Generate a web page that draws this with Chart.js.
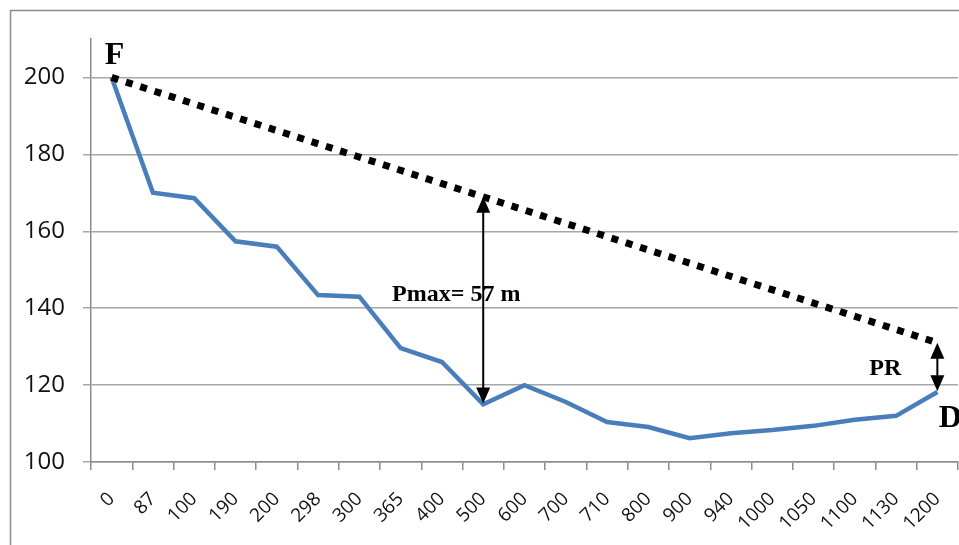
<!DOCTYPE html>
<html>
<head>
<meta charset="utf-8">
<script src="https://cdn.jsdelivr.net/npm/chart.js@4"></script>
<style>
  html, body { margin: 0; padding: 0; background: #fff; }
  #wrap { position: relative; width: 959px; height: 545px; }
</style>
</head>
<body>
<div id="wrap"><canvas id="profileChart" width="959" height="545"></canvas></div>
<script>
// distances along the profile (m)
const distances = ['0', '87', '100', '190', '200', '298', '300', '365', '400', '500', '600',
                   '700', '710', '800', '900', '940', '1000', '1050', '1100', '1130', '1200'];
// ground elevation (m)
const elevation = [200, 170, 168.6, 157.4, 156, 143.4, 143, 129.6, 126, 115, 120,
                   115.6, 110.4, 109.1, 106.2, 107.5, 108.3, 109.4, 111, 112, 118.2];
// straight line F -> top of PR (only the two end points are known)
const lineFD = [200, null, null, null, null, null, null, null, null, null, null,
                null, null, null, null, null, null, null, null, null, 131];
const yTicks = [100, 120, 140, 160, 180, 200];

// arrows: [category index, from value, to value]
const pmaxArrow = [9, 115.2, 169];
const prArrow = [20, 118.4, 131];

document.addEventListener('DOMContentLoaded', function() {
    const ctx = document.getElementById('profileChart').getContext('2d');

    function arrowHead(c, x, y, dir) {
        c.beginPath();
        c.moveTo(x, y);
        c.lineTo(x - 7, y - dir * 16);
        c.lineTo(x + 7, y - dir * 16);
        c.closePath();
        c.fill();
    }

    function drawArrow(c, chart, a) {
        const xs = chart.scales.x, ys = chart.scales.y;
        const x = xs.getPixelForValue(a[0]);
        const y1 = ys.getPixelForValue(a[1]);
        const y2 = ys.getPixelForValue(a[2]);
        c.strokeStyle = '#000';
        c.fillStyle = '#000';
        c.lineWidth = 2;
        c.beginPath();
        c.moveTo(x, y1 - 10);
        c.lineTo(x, y2 + 10);
        c.stroke();
        arrowHead(c, x, y1, 1);
        arrowHead(c, x, y2, -1);
    }

    const annotations = {
        id: 'annotations',
        beforeDraw(chart) {
            const c = chart.ctx;
            c.save();
            c.strokeStyle = '#8c8c8c';
            c.lineWidth = 1.5;
            c.strokeRect(10.5, 10.5, 1000, 600);
            c.restore();
        },
        afterDatasetsDraw(chart) {
            const c = chart.ctx;
            const xs = chart.scales.x, ys = chart.scales.y;
            c.save();
            drawArrow(c, chart, pmaxArrow);
            drawArrow(c, chart, prArrow);

            c.fillStyle = '#000';
            c.textBaseline = 'middle';
            c.textAlign = 'center';
            c.font = 'bold 32px "Liberation Serif", "DejaVu Serif", serif';
            c.fillText('F', xs.getPixelForValue(0) + 3, ys.getPixelForValue(200) - 22);
            c.fillText('D', xs.getPixelForValue(20) + 13, ys.getPixelForValue(118) + 26);

            c.font = 'bold 24px "Liberation Serif", "DejaVu Serif", serif';
            c.fillText('Pmax= 57 m', xs.getPixelForValue(9) - 27, ys.getPixelForValue(144) + 2);

            c.font = 'bold 24px "Liberation Serif", "DejaVu Serif", serif';
            c.fillText('PR', xs.getPixelForValue(20) - 52, ys.getPixelForValue(124.5) + 1);
            c.restore();
        }
    };

    const config = {
        type: 'line',
        data: {
            labels: distances,
            datasets: [
                {
                    label: 'Ground',
                    data: elevation,
                    borderColor: '#4a7ebb',
                    borderWidth: 4.5,
                    pointRadius: 0,
                    tension: 0,
                    fill: false,
                    order: 2
                },
                {
                    label: 'F-D',
                    data: lineFD,
                    borderColor: '#000',
                    borderWidth: 7,
                    borderDash: [7, 8],
                    borderCapStyle: 'butt',
                    pointRadius: 0,
                    spanGaps: true,
                    fill: false,
                    order: 1
                }
            ]
        },
        options: {
            responsive: false,
            animation: false,
            layout: {
                padding: { left: 0, top: 39, right: 1, bottom: 0 }
            },
            plugins: {
                legend: { display: false },
                tooltip: { enabled: false }
            },
            scales: {
                x: {
                    offset: true,
                    grid: {
                        offset: true,
                        drawOnChartArea: false,
                        drawTicks: true,
                        tickLength: 8,
                        color: '#8c8c8c',
                        lineWidth: 1.5
                    },
                    border: { display: true, color: '#8c8c8c', width: 1.5 },
                    ticks: {
                        autoSkip: false,
                        minRotation: 45,
                        maxRotation: 45,
                        padding: 18,
                        color: '#111',
                        font: { size: 19, family: "'Open Sans', 'DejaVu Sans', sans-serif" }
                    },
                    afterFit: function(scale) {
                        scale.height = 83;
                        scale.paddingLeft = 0;
                        scale.paddingRight = 0;
                    }
                },
                y: {
                    min: 100,
                    max: 210,
                    afterBuildTicks: function(axis) {
                        axis.ticks = yTicks.map(function(v) { return { value: v }; });
                    },
                    grid: {
                        color: '#a6a6a6',
                        lineWidth: 1.5,
                        drawTicks: true,
                        tickLength: 8
                    },
                    border: { display: true, color: '#8c8c8c', width: 1.5 },
                    ticks: {
                        padding: 18,
                        color: '#111',
                        font: { size: 24, family: "'Open Sans', 'DejaVu Sans', sans-serif" }
                    },
                    afterFit: function(scale) { scale.width = 91; }
                }
            }
        },
        plugins: [annotations]
    };

    new Chart(ctx, config);
});
</script>
</body>
</html>
